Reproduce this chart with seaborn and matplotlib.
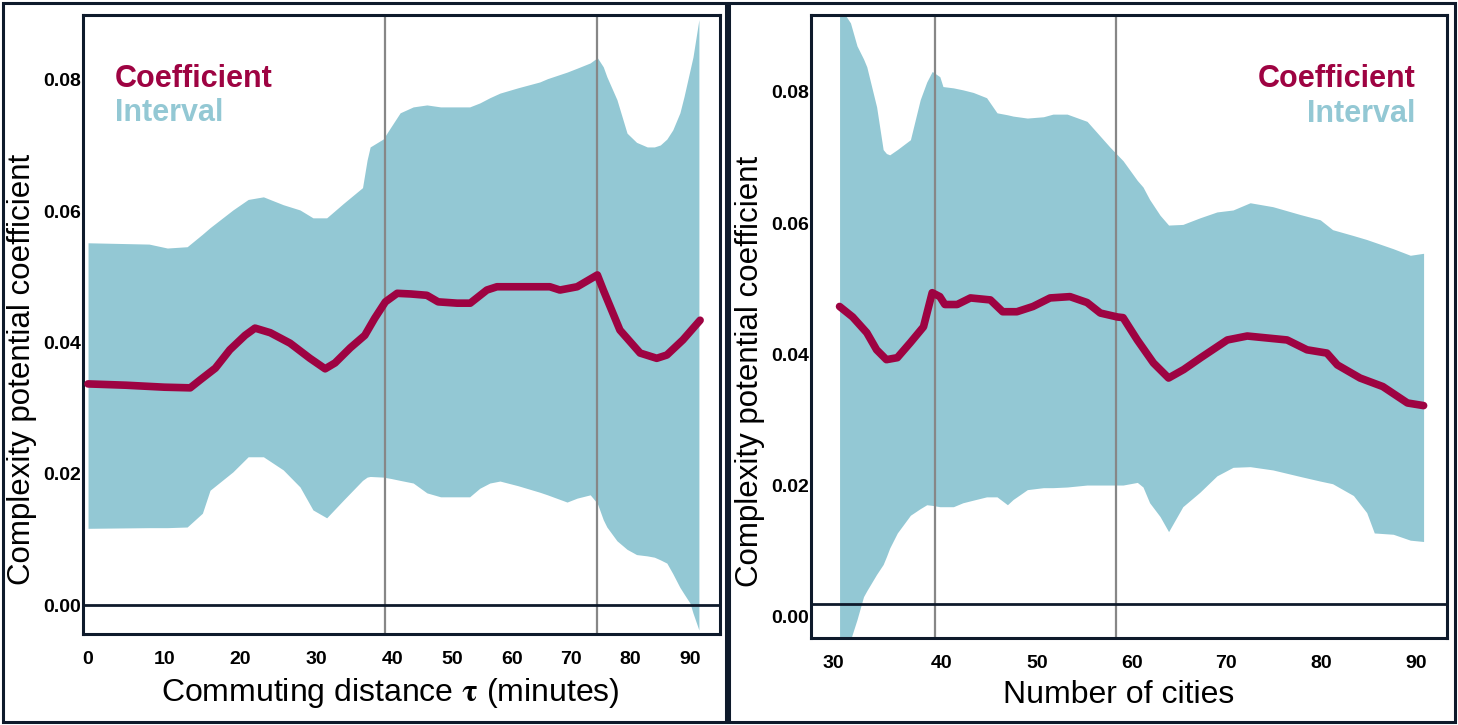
import numpy as np
import pandas as pd
import matplotlib
matplotlib.use('Agg')
import matplotlib.pyplot as plt
from matplotlib.patches import Rectangle
import seaborn as sns

# ---- data ----
# left panel: commuting distance tau (minutes)
tau_coef = [0, 5, 10, 13.4, 14.7, 16.7, 18.6, 20.6, 21.9, 23.9, 26.5, 29.1, 31.1, 32.4, 34.4,
            36.3, 37.6, 39.0, 40.7, 43, 45.7, 47.6, 50.8, 53.0, 55.8, 57.5, 66.4, 68.1, 71.0,
            74.4, 75.4, 78.2, 81.6, 84.4, 86.1, 88.8, 91.7]
coef_tau = [0.0337, 0.0335, 0.0332, 0.0331, 0.0343, 0.0361, 0.0389, 0.0411, 0.0422, 0.0415,
            0.0399, 0.0376, 0.0360, 0.0369, 0.0392, 0.0411, 0.0437, 0.0462, 0.0475, 0.0474,
            0.0472, 0.0462, 0.0460, 0.0460, 0.0480, 0.0485, 0.0485, 0.0480, 0.0485, 0.0503,
            0.0480, 0.0419, 0.0384, 0.0376, 0.0381, 0.0404, 0.0434]

tau_band = [0, 8, 10.4, 13, 15, 16, 19, 21, 23, 25.6, 27.8, 29.5, 31.3, 33.5, 36, 36.6, 37,
            38.7, 39.7, 41.2, 43.4, 45.7, 48, 52.9, 54.6, 56.3, 58, 61, 64.7, 66, 69.3, 71,
            73.2, 74.4, 75.4, 76, 77.7, 79.4, 81, 82.8, 84, 85, 86.1, 87.1, 88.3, 89, 90,
            90.5, 91.5]
upper_tau = [0.0552, 0.0550, 0.0544, 0.0546, 0.0565, 0.0575, 0.0602, 0.0618, 0.0622, 0.0610,
             0.0602, 0.0590, 0.0590, 0.0612, 0.0636, 0.0678, 0.0698, 0.0710, 0.0728, 0.0750,
             0.0759, 0.0762, 0.0759, 0.0759, 0.0765, 0.0773, 0.0780, 0.0788, 0.0797, 0.0802,
             0.0812, 0.0818, 0.0826, 0.0834, 0.0820, 0.0805, 0.0770, 0.0719, 0.0705, 0.0698,
             0.0698, 0.0701, 0.0710, 0.0724, 0.0750, 0.0775, 0.0815, 0.0835, 0.0892]
lower_tau = [0.0117, 0.0118, 0.0118, 0.0119, 0.0140, 0.0175, 0.0203, 0.0226, 0.0226, 0.0206,
             0.0180, 0.0145, 0.0133, 0.0160, 0.0190, 0.0195, 0.0196, 0.0195, 0.0193, 0.0190,
             0.0186, 0.0171, 0.0165, 0.0165, 0.0178, 0.0186, 0.0189, 0.0182, 0.0172, 0.0168,
             0.0157, 0.0163, 0.0168, 0.0155, 0.0130, 0.0119, 0.0098, 0.0085, 0.0077, 0.0075,
             0.0073, 0.0069, 0.0064, 0.0048, 0.0027, 0.0017, 0.0003, -0.0012, -0.0038]
tau_marks = [39.0, 74.4]

# right panel: number of cities
n_coef = [30.6, 31.8, 33.1, 34.0, 34.9, 35.9, 37.1, 38.3, 39.1, 39.8, 40.3, 41.6, 43.0, 45.1,
          46.4, 47.9, 49.6, 51.4, 53.5, 55.3, 56.7, 58.5, 59.1, 60.6, 62.3, 63.9, 65.5, 67.3,
          70.1, 72.2, 76.4, 78.5, 80.6, 81.7, 84.1, 86.5, 89.1, 90.8]
coef_n = [0.0473, 0.0457, 0.0433, 0.0407, 0.0392, 0.0395, 0.0418, 0.0442, 0.0494, 0.0488,
          0.0476, 0.0476, 0.0486, 0.0483, 0.0465, 0.0465, 0.0473, 0.0486, 0.0488, 0.0479,
          0.0463, 0.0457, 0.0456, 0.0422, 0.0387, 0.0364, 0.0377, 0.0395, 0.0422, 0.0428,
          0.0422, 0.0407, 0.0402, 0.0384, 0.0364, 0.0351, 0.0326, 0.0322]

n_band = [30.6, 31.6, 32.2, 32.8, 33.1, 34.0, 34.6, 34.9, 35.2, 35.9, 37.1, 38.0, 38.6, 39.1,
          39.8, 40.1, 41.2, 42.2, 43.3, 44.7, 45.8, 46.9, 47.5, 49.0, 50.7, 51.7, 53.2, 55.3,
          57.7, 59.1, 60.6, 61.2, 61.9, 63.0, 63.9, 65.4, 67.2, 69.0, 70.7, 72.5, 74.9, 77.8,
          79.9, 81.2, 83.4, 84.8, 85.6, 87.6, 89.4, 90.8]
upper_n = [0.0930, 0.0905, 0.0870, 0.0850, 0.0838, 0.0777, 0.0712, 0.0706, 0.0704, 0.0712,
           0.0727, 0.0788, 0.0815, 0.0831, 0.0823, 0.0808, 0.0806, 0.0803, 0.0799, 0.0791,
           0.0768, 0.0765, 0.0763, 0.0760, 0.0762, 0.0766, 0.0766, 0.0755, 0.0716, 0.0695,
           0.0665, 0.0655, 0.0636, 0.0612, 0.0597, 0.0598, 0.0608, 0.0617, 0.0620, 0.0631,
           0.0625, 0.0613, 0.0605, 0.0590, 0.0581, 0.0575, 0.0571, 0.0561, 0.0551, 0.0554]
lower_n = [-0.0040, -0.0035, -0.0004, 0.0031, 0.0040, 0.0065, 0.0080, 0.0092, 0.0105, 0.0128,
           0.0155, 0.0165, 0.0171, 0.0170, 0.0168, 0.0168, 0.0168, 0.0174, 0.0178, 0.0183,
           0.0183, 0.0171, 0.0179, 0.0194, 0.0197, 0.0197, 0.0198, 0.0201, 0.0201, 0.0201,
           0.0205, 0.0198, 0.0174, 0.0153, 0.0130, 0.0168, 0.0190, 0.0215, 0.0228, 0.0229,
           0.0224, 0.0214, 0.0207, 0.0203, 0.0185, 0.0159, 0.0128, 0.0126, 0.0117, 0.0115]
n_marks = [39.4, 58.4]

yticks = [0.00, 0.02, 0.04, 0.06, 0.08]

red = '#9e0342'
blue = '#93c8d4'
navy = '#0e1a2b'

sns.set_theme(style='white')
plt.rcParams['font.family'] = ['Liberation Sans', 'DejaVu Sans']
plt.rcParams['mathtext.fontset'] = 'stix'


def piecewise(xs, ys):
    # the printed axes are not evenly spaced, so use a piecewise linear scale
    fwd = lambda v: np.interp(v, xs, ys)
    inv = lambda v: np.interp(v, ys, xs)
    return fwd, inv


fig = plt.figure(figsize=(14.58, 7.25), dpi=100)
ax1 = fig.add_axes([83 / 1458, 1 - 634 / 725, 637 / 1458, 619 / 725])
ax2 = fig.add_axes([811 / 1458, 1 - 638 / 725, 636 / 1458, 623 / 725])

panels = [
    (ax1, tau_band, lower_tau, upper_tau, tau_coef, coef_tau, tau_marks,
     piecewise([-100, 0, 40, 200], [-762.5, 0, 305, 305 + 160 * 5.94]),
     (-0.66, 95.05), (-0.0044, 0.0899), 0.0, list(range(0, 100, 10)),
     r'Commuting distance $\mathbf{\tau}$ (minutes)', 'left'),
    (ax2, n_band, lower_n, upper_n, n_coef, coef_n, n_marks,
     piecewise([0, 30, 40, 200], [-327, 0, 109, 109 + 160 * 9.48]),
     (27.98, 93.27), (-0.0032, 0.0917), 0.002, list(range(30, 100, 10)),
     'Number of cities', 'right'),
]

for (ax, xb, lo, hi, xc, yc, marks, funcs, xlim, ylim, zero, xt, xlab, side) in panels:
    ax.set_xscale('function', functions=funcs)
    ax.fill_between(xb, lo, hi, color=blue, lw=0, zorder=1)
    df = pd.DataFrame({'x': xc, 'coef': yc})
    sns.lineplot(data=df, x='x', y='coef', ax=ax, color=red, lw=5.5,
                 solid_capstyle='round', solid_joinstyle='round', zorder=3)
    for m in marks:
        ax.axvline(m, color='#878787', lw=1.6, zorder=2)
    ax.axhline(zero, color=navy, lw=2, zorder=2)
    ax.set_xlim(*xlim)
    ax.set_ylim(*ylim)
    ax.set_xticks(xt, [str(t) for t in xt], fontsize=14, fontweight='bold')
    ax.set_yticks(yticks, [f'{t:.2f}' for t in yticks], fontsize=14, fontweight='bold')
    ax.tick_params(axis='x', length=0, pad=12, colors='black')
    ax.tick_params(axis='y', length=0, pad=1.5, colors='black')
    ax.set_xlabel(xlab, fontsize=23, color='black')
    ax.set_ylabel('Complexity potential coefficient', fontsize=22.5, color='black')
    ax.xaxis.set_label_coords(0.483, -0.068)
    ax.yaxis.set_label_coords(-0.072, 0.428)
    for sp in ax.spines.values():
        sp.set_color(navy)
        sp.set_linewidth(2.2)
    if side == 'left':
        ax.text(0.050, 0.884, 'Coefficient', transform=ax.transAxes, fontsize=22,
                fontweight='bold', color=red, ha='left', va='baseline')
        ax.text(0.050, 0.829, 'Interval', transform=ax.transAxes, fontsize=22,
                fontweight='bold', color=blue, ha='left', va='baseline')
    else:
        ax.text(0.950, 0.884, 'Coefficient', transform=ax.transAxes, fontsize=22,
                fontweight='bold', color=red, ha='right', va='baseline')
        ax.text(0.950, 0.828, 'Interval', transform=ax.transAxes, fontsize=22,
                fontweight='bold', color=blue, ha='right', va='baseline')

# outer frames around each panel
for x0, x1 in [(3, 726), (729, 1455)]:
    fig.patches.append(Rectangle((x0 / 1458, 3 / 725), (x1 - x0) / 1458, 719 / 725,
                                 transform=fig.transFigure, fill=False,
                                 edgecolor=navy, lw=2.2))

fig.savefig('out.png', dpi=100)
